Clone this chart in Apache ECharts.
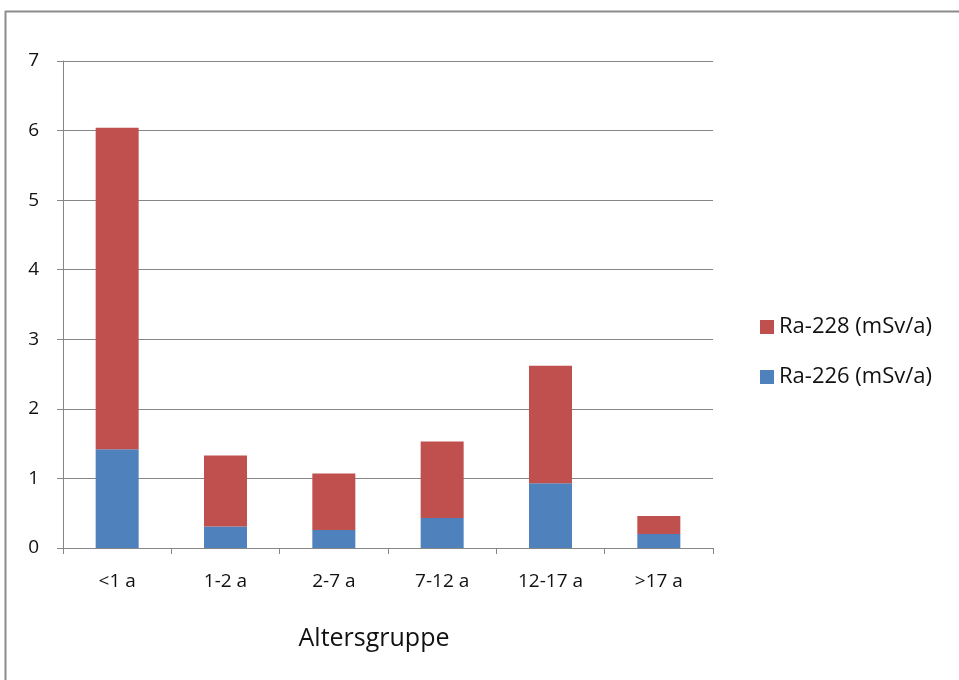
<!DOCTYPE html>
<html>
<head>
<meta charset="utf-8">
<script src="https://cdn.jsdelivr.net/npm/echarts@6/dist/echarts.min.js"></script>
<style>
  html, body { margin: 0; padding: 0; background: #fff; }
  #chart { width: 959px; height: 680px; }
</style>
</head>
<body>
<div id="chart"></div>
<script>
// Altersgruppen und Dosiswerte (mSv/a)
var groups = ['<1 a', '1-2 a', '2-7 a', '7-12 a', '12-17 a', '>17 a'];
var ra226 = [1.42, 0.31, 0.26, 0.43, 0.93, 0.20];
var ra228 = [4.62, 1.02, 0.81, 1.10, 1.69, 0.26];
var yTicks = [0, 1, 2, 3, 4, 5, 6, 7];

var chart = echarts.init(document.getElementById('chart'));

var labelFont = '"Open Sans", "DejaVu Sans", sans-serif';

var option = {
  animation: false,
  graphic: [
    {
      type: 'line',
      shape: { x1: 5, y1: 11.5, x2: 959, y2: 11.5 },
      style: { stroke: '#8c8c8c', lineWidth: 2 }
    },
    {
      type: 'line',
      shape: { x1: 5.5, y1: 11, x2: 5.5, y2: 680 },
      style: { stroke: '#8c8c8c', lineWidth: 2 }
    }
  ],
  grid: { left: 63, top: 61, right: 246, bottom: 132 },
  legend: {
    orient: 'vertical',
    left: 755,
    top: 311,
    itemWidth: 14,
    itemHeight: 14,
    itemGap: 28,
    icon: 'rect',
    textStyle: { fontFamily: labelFont, fontSize: 22, color: '#111' },
    data: ['Ra-228 (mSv/a)', 'Ra-226 (mSv/a)']
  },
  xAxis: {
    type: 'category',
    data: groups,
    name: 'Altersgruppe',
    nameLocation: 'middle',
    nameGap: 78,
    nameTextStyle: { fontFamily: labelFont, fontSize: 25, color: '#111', padding: [0, 28, 0, 0] },
    axisLine: { lineStyle: { color: '#868686', width: 1 } },
    axisTick: { show: true, length: 6, lineStyle: { color: '#868686' } },
    axisLabel: { margin: 24, fontFamily: labelFont, fontSize: 19, color: '#111' }
  },
  yAxis: {
    type: 'value',
    min: yTicks[0],
    max: yTicks[yTicks.length - 1],
    interval: 1,
    axisLine: { show: true, lineStyle: { color: '#868686', width: 1 } },
    axisTick: { show: true, length: 6, lineStyle: { color: '#868686' } },
    axisLabel: { margin: 24, fontFamily: labelFont, fontSize: 19, color: '#111' },
    splitLine: { lineStyle: { color: '#868686', width: 1 } }
  },
  series: [
    {
      name: 'Ra-226 (mSv/a)',
      type: 'bar',
      stack: 'dose',
      barWidth: 43,
      itemStyle: { color: '#4f81bd' },
      data: ra226
    },
    {
      name: 'Ra-228 (mSv/a)',
      type: 'bar',
      stack: 'dose',
      barWidth: 43,
      itemStyle: { color: '#c0504d' },
      data: ra228
    }
  ]
};

chart.setOption(option);
</script>
</body>
</html>
